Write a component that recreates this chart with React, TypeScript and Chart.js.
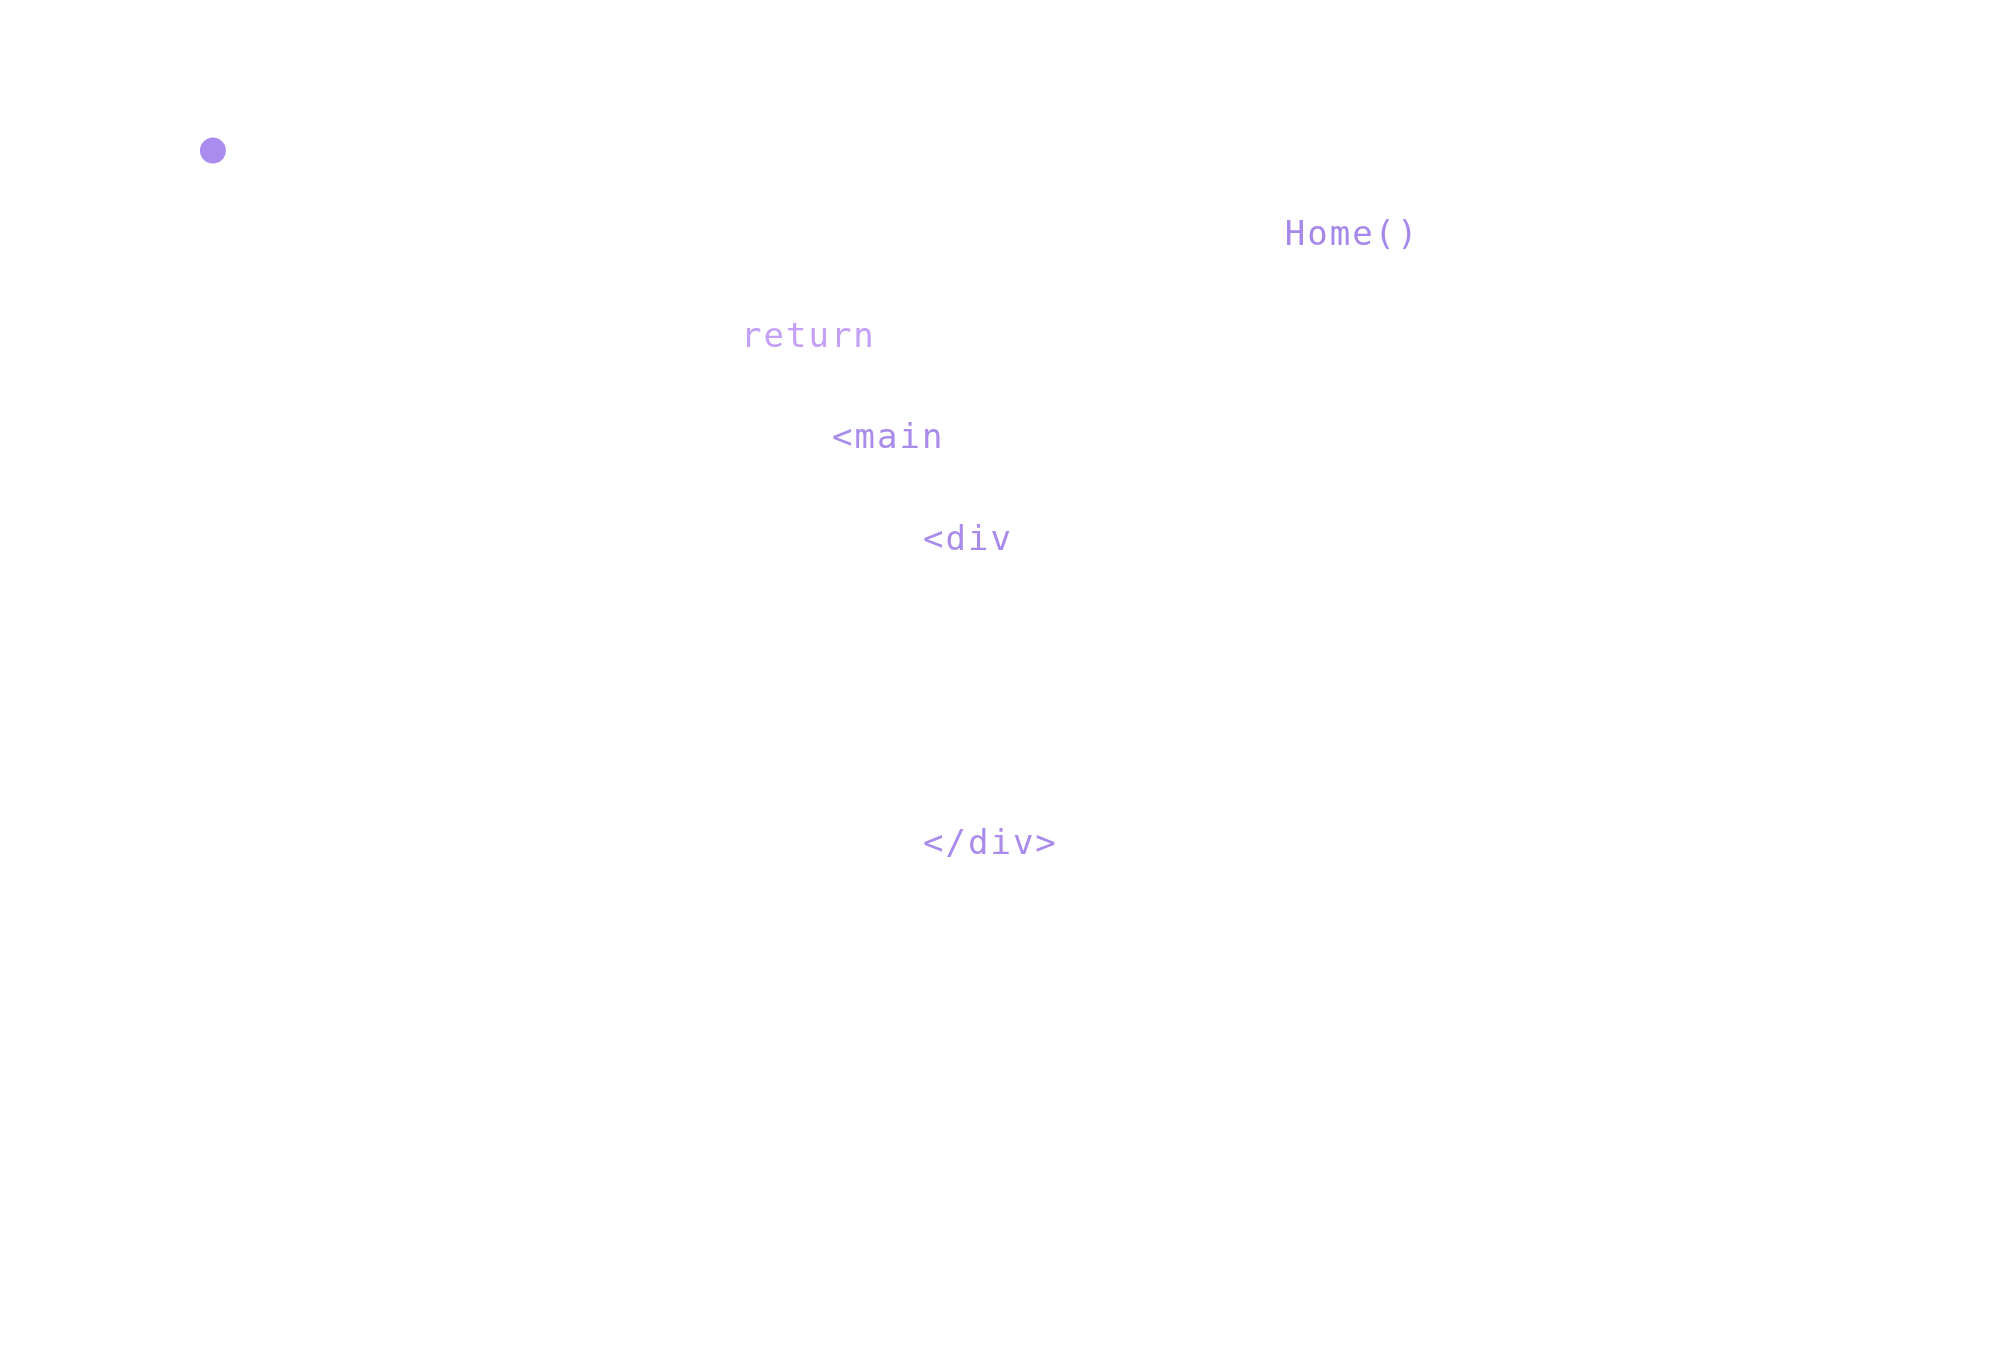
import React, { useEffect, useRef } from "react";
import { Chart, registerables } from "chart.js";

Chart.register(...registerables);

// Code tokens placed on an editor grid (column, line)
const tokenTexts: string[] = ["Home()", "return", "<main", "<div", "</div>"];
const tokenColumns: number[] = [27.9, 4, 8, 12, 12];
const tokenLines: number[] = [0, 1, 2, 3, 6];
const tokenColors: string[] = ["#a588ea", "#c4a0f7", "#a88bea", "#a88bea", "#a88bea"];

// Single marker dot
const dotColumns: number[] = [-19.3];
const dotLines: number[] = [-0.93];

const COL_W = 22.75;
const LINE_H = 101.5;
const X0 = 652;
const Y0 = 245;

const textPlugin = {
  id: "codeTokens",
  afterDatasetsDraw(chart: any) {
    const ctx = chart.ctx as CanvasRenderingContext2D;
    const xs = chart.scales.x;
    const ys = chart.scales.y;
    ctx.save();
    ctx.font = '34px "DejaVu Sans Mono", monospace';
    (ctx as any).letterSpacing = "2px";
    ctx.textBaseline = "alphabetic";
    ctx.textAlign = "left";
    tokenTexts.forEach((t, i) => {
      ctx.fillStyle = tokenColors[i];
      ctx.fillText(t, xs.getPixelForValue(tokenColumns[i]) - 2, ys.getPixelForValue(tokenLines[i]));
    });
    ctx.restore();
  },
};

export default function App() {
  const ref = useRef<HTMLCanvasElement | null>(null);
  useEffect(() => {
    if (!ref.current) return;
    const chart = new Chart(ref.current, {
      type: "scatter",
      data: {
        datasets: [
          {
            data: dotColumns.map((c, i) => ({ x: c, y: dotLines[i] })),
            pointRadius: 13,
            pointHoverRadius: 13,
            backgroundColor: "#aa8bee",
            borderWidth: 0,
            clip: false,
          },
        ],
      },
      options: {
        animation: false,
        responsive: true,
        maintainAspectRatio: false,
        layout: { padding: 0, autoPadding: false },
        plugins: { legend: { display: false }, tooltip: { enabled: false } },
        events: [],
        scales: {
          x: { type: "linear", display: false, min: -X0 / COL_W, max: (2000 - X0) / COL_W },
          y: { type: "linear", display: false, reverse: true, min: -Y0 / LINE_H, max: (1360 - Y0) / LINE_H },
        },
      },
      plugins: [textPlugin],
    });
    return () => chart.destroy();
  }, []);
  return (
    <div style={{ position: "fixed", left: 0, top: 0, width: 2000, height: 1360, background: "#ffffff" }}>
      <canvas ref={ref} />
    </div>
  );
}
